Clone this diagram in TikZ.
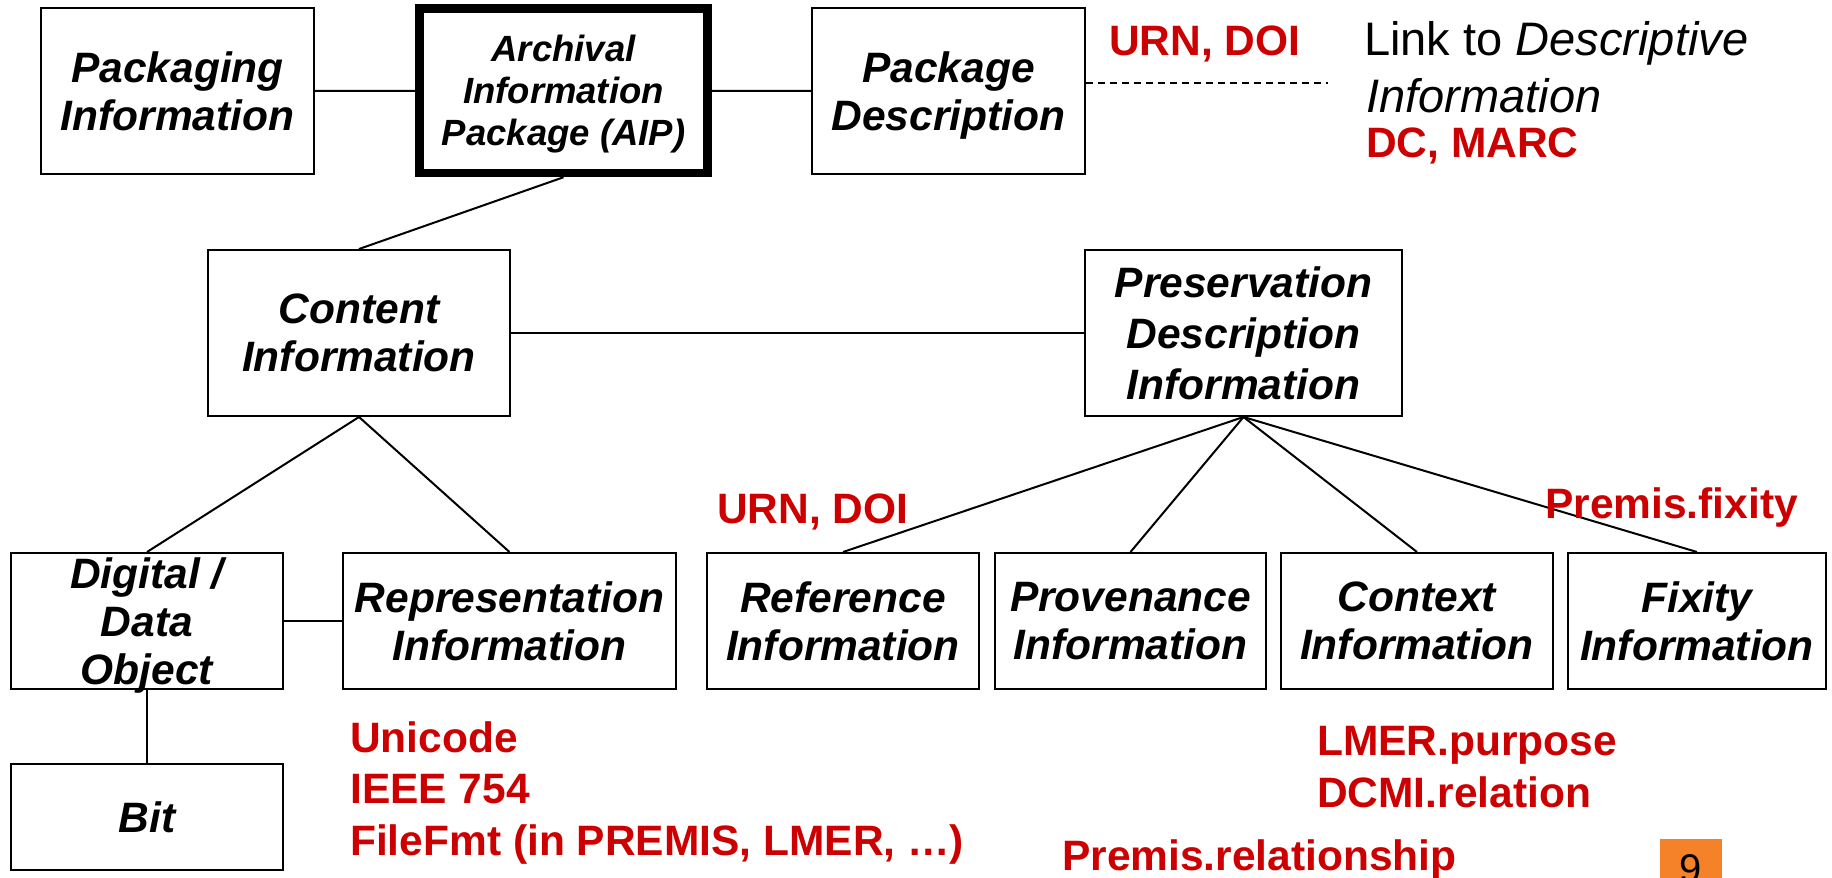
\documentclass[tikz,border=0pt]{standalone}
\usepackage{fontspec}
\setmainfont{Liberation Sans}
\newcommand\bxfont{\fontsize{42.5}{48}\selectfont\bfseries\itshape}
\newcommand\rdfont{\fontsize{42.5}{51}\selectfont\bfseries}
\definecolor{redtxt}{RGB}{204,0,0}
\definecolor{orangebox}{RGB}{245,130,40}
\begin{document}
\begin{tikzpicture}[x=1pt,y=-1pt,
  box/.style={draw, line width=2pt, inner sep=0pt, align=center, font=\bxfont, minimum height=166pt, text depth=0pt},
  lowbox/.style={box, minimum height=136pt},
  conn/.style={line width=2pt},
  redlbl/.style={anchor=base west, inner sep=0pt, text=redtxt, font=\rdfont},
  blklbl/.style={anchor=base west, inner sep=0pt, font=\fontsize{47}{56}\selectfont}]
\useasboundingbox (0,0) rectangle (1832,878);
\clip (0,0) rectangle (1832,878);
\fill[white] (0,0) rectangle (1832,878);

% top row
\node[box, minimum width=273pt] (pack) at (177.5,91) {Packaging\\Information};
\node[box, line width=8.5pt, minimum width=288pt, minimum height=164.5pt, font=\fontsize{36.5}{42}\selectfont\bfseries\itshape] (aip) at (563.5,90.75) {Archival\\Information\\Package (AIP)};
\node[box, minimum width=273pt] (pd) at (948.5,91) {Package\\Description};

% middle row
\node[box, minimum width=302pt] (content) at (359,333) {Content\\Information};
\node[box, minimum width=317pt, font=\fontsize{42.5}{51}\selectfont\bfseries\itshape] (pdi) at (1243.5,333) {Preservation\\Description\\Information};

% lower row
\node[lowbox, minimum width=272pt] (digital) at (147,621) {Digital /\\Data\\Object};
\node[lowbox, minimum width=333pt] (repr) at (509.5,621) {Representation\\Information};
\node[lowbox, minimum width=272pt] (ref) at (843,621) {Reference\\Information};
\node[lowbox, minimum width=271pt] (prov) at (1130.5,621) {Provenance\\Information};
\node[lowbox, minimum width=272pt] (ctx) at (1417,621) {Context\\Information};
\node[lowbox, minimum width=258pt] (fix) at (1697,621) {Fixity\\Information};

\node[box, minimum width=272pt, minimum height=106pt] (bit) at (147,817) {Bit};

% connectors
\draw[conn] (pack.east) -- (aip.west);
\draw[conn] (aip.east) -- (pd.west);
\coordinate (dashend) at (1328,83);
\draw[line width=2pt, dash pattern=on 7pt off 5pt] (pd.east |- dashend) -- (dashend);
\draw[conn] (aip.south) -- (content.north);
\draw[conn] (content.east) -- (pdi.west);
\draw[conn] (content.south) -- (digital.north);
\draw[conn] (content.south) -- (repr.north);
\draw[conn] (digital.east) -- (repr.west);
\draw[conn] (digital.south) -- (bit.north);
\draw[conn] (pdi.south) -- (ref.north);
\draw[conn] (pdi.south) -- (prov.north);
\draw[conn] (pdi.south) -- (ctx.north);
\draw[conn] (pdi.south) -- (fix.north);

% labels
\node[redlbl] (urn1) at (1109,55) {URN, DOI};
\node[blklbl] (link1) at (1364,55) {Link to \textit{Descriptive}};
\node[blklbl] (link2) at (1366,112) {\textit{Information}};
\node[redlbl] (dc) at (1366,157) {DC, MARC};

\node[redlbl] (urn2) at (717,523) {URN, DOI};
\node[redlbl] (pfix) at (1545,518) {Premis.fixity};

\node[redlbl] (uni) at (350,752) {Unicode};
\node[redlbl] (ieee) at (350,803) {IEEE 754};
\node[redlbl] (ffmt) at (350,855) {FileFmt (in PREMIS, LMER, …)};

\node[redlbl] (lmer) at (1317,755) {LMER.purpose};
\node[redlbl] (dcmi) at (1317,807) {DCMI.relation};
\node[redlbl] (prel) at (1062,870) {Premis.relationship};

\node[fill=orangebox, inner sep=0pt, minimum width=62pt, minimum height=60pt, font=\fontsize{40}{48}\selectfont] (pg) at (1691,869) {9};
\end{tikzpicture}
\end{document}
